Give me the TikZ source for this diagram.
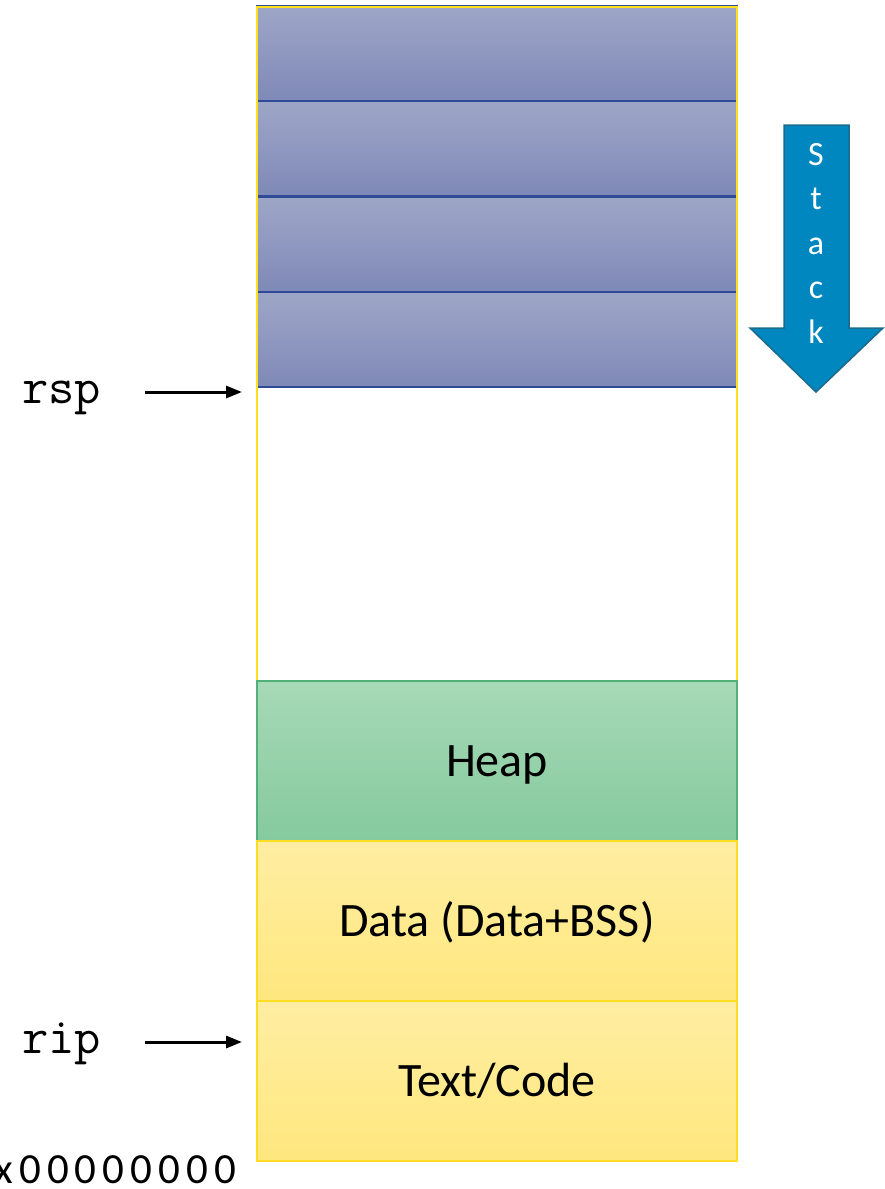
\documentclass[tikz,border=0pt]{standalone}
\usepackage{fontspec}
\setmainfont{Carlito}
\usetikzlibrary{arrows.meta}

\definecolor{stackTop}{HTML}{9EA6C7}
\definecolor{stackBot}{HTML}{7F89B7}
\definecolor{stackLine}{HTML}{2E4A96}
\definecolor{heapTop}{HTML}{A7D9B7}
\definecolor{heapBot}{HTML}{85CA9E}
\definecolor{heapLine}{HTML}{52B07A}
\definecolor{segTop}{HTML}{FFEEA2}
\definecolor{segBot}{HTML}{FFE77E}
\definecolor{segLine}{HTML}{FFDD22}
\definecolor{frameLine}{HTML}{FFE01A}
\definecolor{growFill}{HTML}{0087C0}
\definecolor{growLine}{HTML}{1C6B8C}

\tikzset{
  cell/.style={rectangle, anchor=north west, minimum width=480, inner sep=0pt, outer sep=0pt},
  stackcell/.style={cell, minimum height=95, top color=stackTop, bottom color=stackBot,
                    draw=stackLine, line width=1.2pt},
  heapcell/.style={cell, minimum height=160, top color=heapTop, bottom color=heapBot,
                   draw=heapLine, line width=1.2pt},
  segcell/.style={cell, minimum height=160, top color=segTop, bottom color=segBot,
                  draw=segLine, line width=1.5pt},
  seglabel/.style={font=\fontsize{48}{58}\selectfont, text=black, anchor=base, inner sep=0pt},
  reglabel/.style={font=\ttfamily\fontsize{51}{60}\selectfont, anchor=base west, inner sep=0pt},
  pointer/.style={line width=3pt, -{Triangle[length=16pt, width=12pt]}},
}

\begin{document}
\begin{tikzpicture}[x=1pt, y=-1pt]
\useasboundingbox (0,0) rectangle (885,1189);

% stack frames at the top of the address space
\node[stackcell] (frame1) at (257,6)   {};
\node[stackcell] (frame2) at (257,101) {};
\node[stackcell] (frame3) at (257,197) {};
\node[stackcell] (frame4) at (257,292) {};

% outline of the whole address space
\draw[frameLine, line width=2pt] (257,7) rectangle (737,1160);

% lower segments
\node[heapcell] (heap) at (257,681) {};
\node[seglabel] at ([yshift=-15.5pt]heap.center) {Heap};
\node[segcell] (data) at (257,841) {};
\node[seglabel] at ([yshift=-15.5pt]data.center) {Data (Data+BSS)};
\node[segcell] (text) at (257,1001) {};
\node[seglabel] at ([yshift=-15.5pt]text.center) {Text/Code};

% downward stack growth arrow
\path[fill=growFill, draw=growLine, line width=1.5pt]
  (784,125) -- (849,125) -- (849,328) -- (883,328) -- (816,392)
  -- (750,328) -- (784,328) -- cycle;
\node[text=white, align=center, inner sep=0pt,
      font=\fontsize{34}{44.5}\selectfont] (growlbl) at (816,243) {S\\t\\a\\c\\k};

% register pointers
\node[reglabel] (rsp) at (22,403) {rsp};
\coordinate (rspTail) at (145,392);
\coordinate (rspHead) at (242,392);
\draw[pointer] (rspTail) -- (rspHead);

\node[reglabel] (rip) at (22,1053) {rip};
\coordinate (ripTail) at (145,1042);
\coordinate (ripHead) at (242,1042);
\draw[pointer] (ripTail) -- (ripHead);

% lowest address
\node[anchor=base east, inner sep=0pt,
      font=\addfontfeature{LetterSpace=14}\fontsize{43}{50}\selectfont] (addr0) at (236,1183) {0x00000000};
\end{tikzpicture}
\end{document}
